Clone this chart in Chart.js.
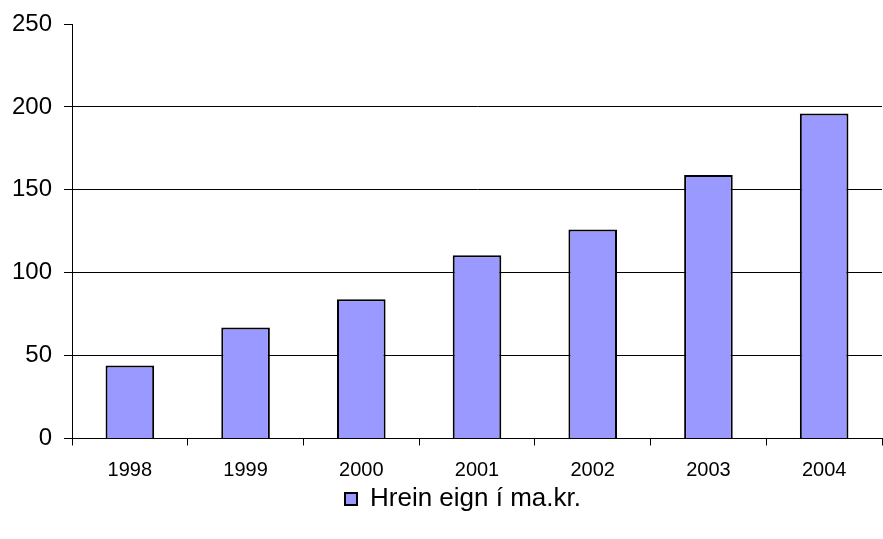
<!DOCTYPE html>
<html>
<head>
<meta charset="utf-8">
<script src="https://cdn.jsdelivr.net/npm/chart.js@4/dist/chart.umd.min.js"></script>
<style>
  html, body { margin: 0; padding: 0; background: #fff; }
  #wrap { width: 883px; height: 539px; }
</style>
</head>
<body>
<div id="wrap"><canvas id="chart" width="883" height="539"></canvas></div>
<script>
// data
const years = ['1998', '1999', '2000', '2001', '2002', '2003', '2004'];
const netAssets = [44, 67, 84, 110.5, 126, 159, 196];
const seriesLabel = 'Hrein eign í ma.kr.';

const font = "'Liberation Sans', Arial, sans-serif";

// legend in the original sits a bit right of centre
const shiftLegend = {
    id: 'shiftLegend',
    afterLayout(chart) {
        if (chart.legend) {
            chart.legend.left += 22;
            chart.legend.right += 22;
        }
    }
};

new Chart(document.getElementById('chart'), {
    type: 'bar',
    data: {
        labels: years,
        datasets: [{
            label: seriesLabel,
            data: netAssets,
            backgroundColor: '#9999ff',
            borderColor: '#000000',
            borderWidth: 2,
            categoryPercentage: 1,
            barPercentage: 0.42
        }]
    },
    options: {
        responsive: false,
        animation: false,
        devicePixelRatio: 1,
        layout: { padding: { top: 24, right: 1, left: 0, bottom: 17 } },
        scales: {
            x: {
                offset: true,
                grid: {
                    offset: true,
                    drawOnChartArea: false,
                    drawTicks: true,
                    tickLength: 7,
                    color: '#000'
                },
                border: { color: '#000', width: 1 },
                ticks: { color: '#000', font: { family: font, size: 20 }, padding: 13 },
                afterFit: function(s) { s.height = 40; }
            },
            y: {
                min: 0,
                max: 250,
                ticks: { stepSize: 50, color: '#000', font: { family: font, size: 24, lineHeight: 1 }, padding: 12 },
                grid: {
                    color: (ctx) => (ctx.tick && ctx.tick.value === 250) ? 'rgba(0,0,0,0)' : '#000',
                    tickColor: '#000',
                    tickLength: 8,
                    lineWidth: 1
                },
                border: { color: '#000', width: 1 },
                afterFit: function(s) { s.width = 72; }
            }
        },
        plugins: {
            legend: {
                position: 'bottom',
                labels: {
                    boxWidth: 12,
                    boxHeight: 12,
                    color: '#000',
                    padding: 7.5,
                    font: { family: font, size: 26 }
                }
            },
            tooltip: { enabled: false }
        }
    },
    plugins: [shiftLegend]
});
</script>
</body>
</html>
